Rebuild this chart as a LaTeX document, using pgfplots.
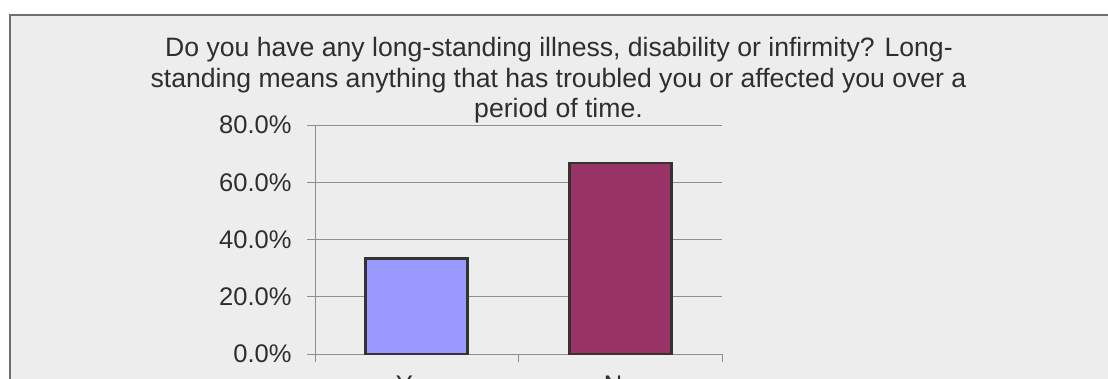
\documentclass[border=0pt]{standalone}
\usepackage{fontspec}
\setmainfont{Liberation Sans}
\usepackage{pgfplots}
\pgfplotsset{compat=1.18}
\definecolor{panel}{HTML}{EDEDED}
\definecolor{framegray}{HTML}{6E6E6E}
\definecolor{gridgray}{HTML}{8E8E8E}
\definecolor{textgray}{HTML}{2E2E2E}
\definecolor{bardark}{HTML}{333333}
\definecolor{yesblue}{HTML}{9999FF}
\definecolor{nored}{HTML}{993366}
\newcommand{\chartfont}{\fontsize{25.5}{30}\selectfont}
\newcommand{\titlefont}{\fontsize{26.6}{31}\selectfont}
\begin{document}
\begin{tikzpicture}[x=1pt,y=1pt]
\clip (0,0) rectangle (1108,-379);
\fill[white] (0,0) rectangle (1108,-379);
\filldraw[fill=panel, draw=framegray, line width=1.5pt] (10,-15) rectangle (1130,-420);
% chart title, one node per line
\node[anchor=base, text=textgray, font=\titlefont, inner sep=0pt] at (559,-57)
  {Do you have any long-standing illness, disability or infirmity? Long-};
\node[anchor=base, text=textgray, font=\titlefont, inner sep=0pt] at (558.5,-88)
  {standing means anything that has troubled you or affected you over a};
\node[anchor=base, text=textgray, font=\titlefont, inner sep=0pt] at (558.5,-118)
  {period of time.};
\begin{axis}[
  at={(315pt,-354pt)}, anchor=south west,
  scale only axis, width=407pt, height=229pt,
  xmin=-0.5, xmax=1.5, ymin=0, ymax=80,
  axis x line*=bottom, axis y line*=left,
  axis line style={draw=gridgray, line width=1pt, -},
  ytick={0,20,40,60,80},
  ymajorgrids, grid style={gridgray, line width=1pt},
  xtick={-0.5,0.5,1.5}, xticklabels={},
  extra x ticks={0,1}, extra x tick labels={Yes,No},
  extra x tick style={major tick length=0pt, grid=none,
    tick label style={yshift=-18pt}},
  tick align=outside, major tick length=8pt,
  tick style={gridgray, line width=1pt},
  yticklabel={\pgfmathprintnumber[fixed,fixed zerofill,precision=1,assume math mode=true]{\tick}\%},
  yticklabel style={xshift=-12pt},
  ticklabel style={font=\chartfont, text=textgray},
  ybar, bar width=102pt, bar shift=0pt,
]
\addplot[fill=yesblue, draw=bardark, line width=2.8pt] coordinates {(0,33.3)};
\addplot[fill=nored, draw=bardark, line width=2.8pt] coordinates {(1,66.7)};
\end{axis}
\end{tikzpicture}
\end{document}
